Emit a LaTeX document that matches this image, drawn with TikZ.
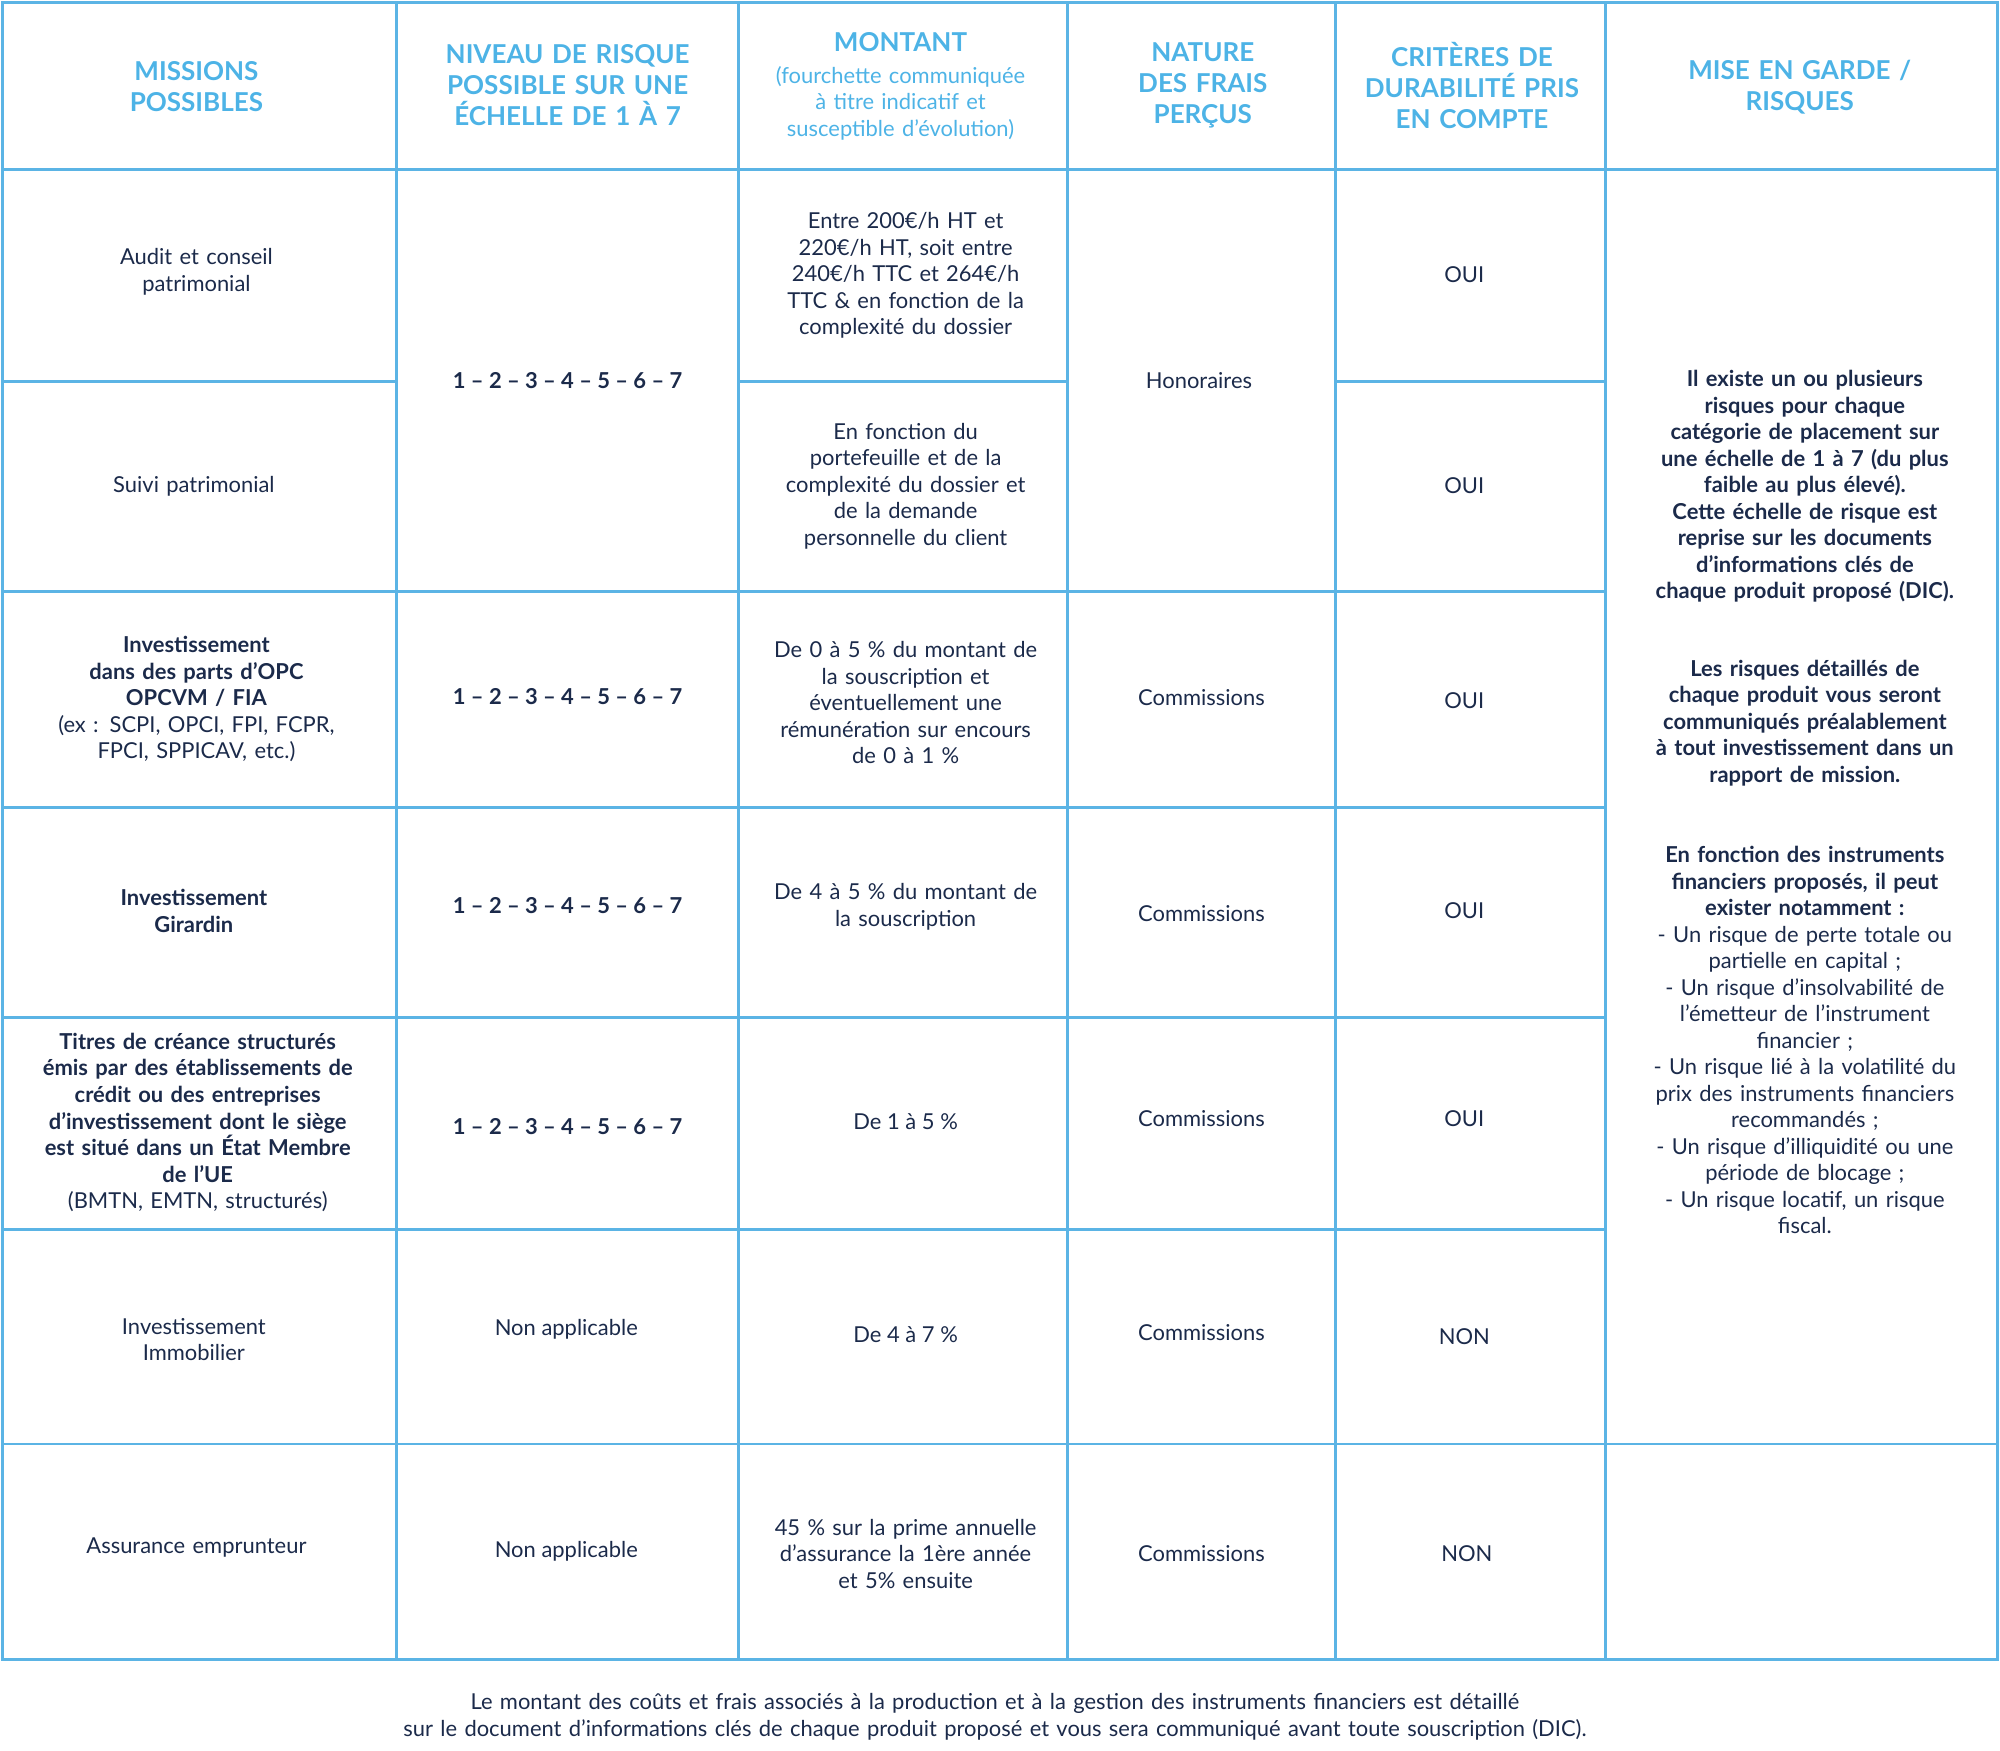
\documentclass[tikz,border=0pt]{standalone}
\usepackage{fontspec}
\setmainfont{Lato}
\definecolor{bl}{HTML}{5BB4E5}
\definecolor{hd}{HTML}{4DB3E6}
\definecolor{nv}{HTML}{1B2A4A}
\begin{document}
\begin{tikzpicture}[x=0.5pt,y=-0.5pt,
 cell/.style={align=center,text=nv,font=\fontsize{8.6}{10.4}\selectfont,inner sep=0pt},
 hdr/.style={align=center,text=hd,font=\fontsize{10.2}{12.2}\selectfont\bfseries,inner sep=0pt},
 ln/.style={draw=bl,line width=1.1pt}]
\useasboundingbox (0,0) rectangle (1568,1372);
\draw[ln] (2,2) rectangle (1566,1301);
\foreach \x in {311,579,837,1047,1259} \draw[ln] (\x,2) -- (\x,1301);
\draw[ln] (2,133) -- (1566,133);
\draw[ln] (2,299) -- (311,299); \draw[ln] (579,299) -- (837,299); \draw[ln] (1047,299) -- (1259,299);
\foreach \y in {464,633,798,964} \draw[ln] (2,\y) -- (1259,\y);
\draw[ln] (2,1132) -- (1566,1132);
% headers
\node[hdr,text width=140pt] (h1) at (154,68) {MISSIONS\\POSSIBLES};
\node[hdr,text width=130pt] (h2) at (445,67) {NIVEAU DE RISQUE\\POSSIBLE SUR UNE\\ÉCHELLE DE 1 À 7};
\node[hdr,text width=125pt] (h3) at (706,33) {MONTANT};
\node[cell,text=hd,text width=125pt] (h3b) at (706,81) {(fourchette communiquée\\à titre indicatif et\\susceptible d’évolution)};
\node[hdr,text width=100pt] (h4) at (943,67) {NATURE\\DES FRAIS\\PERÇUS};
\node[hdr,text width=100pt] (h5) at (1154,67) {CRITÈRES DE\\DURABILITÉ PRIS\\EN COMPTE};
\node[hdr,text width=140pt] (h6) at (1411,68) {MISE EN GARDE /\\RISQUES};
% col1
\node[cell,text width=145pt] (a1) at (154,213) {Audit et conseil\\patrimonial};
\node[cell,text width=145pt] (a2) at (152,381) {Suivi patrimonial};
\node[cell,text width=145pt] (a3) at (154,548) {\textbf{Investissement}\\\textbf{dans des parts d’OPC}\\\textbf{OPCVM / FIA}\\(ex : SCPI, OPCI, FPI, FCPR,\\FPCI, SPPICAV, etc.)};
\node[cell,text width=145pt] (a4) at (152,714) {\textbf{Investissement}\\\textbf{Girardin}};
\node[cell,text width=150pt] (a5) at (155,880) {\textbf{Titres de créance structurés}\\\textbf{émis par des établissements de}\\\textbf{crédit ou des entreprises}\\\textbf{d’investissement dont le siège}\\\textbf{est situé dans un État Membre}\\\textbf{de l’UE}\\(BMTN, EMTN, structurés)};
\node[cell,text width=145pt] (a6) at (152,1050) {Investissement\\Immobilier};
\node[cell,text width=145pt] (a7) at (154,1213) {Assurance emprunteur};
% col2
\node[cell,font=\fontsize{8.6}{10.4}\selectfont\bfseries] (b1) at (445,298) {1 – 2 – 3 – 4 – 5 – 6 – 7};
\node[cell,font=\fontsize{8.6}{10.4}\selectfont\bfseries] (b3) at (445,546) {1 – 2 – 3 – 4 – 5 – 6 – 7};
\node[cell,font=\fontsize{8.6}{10.4}\selectfont\bfseries] (b4) at (445,710) {1 – 2 – 3 – 4 – 5 – 6 – 7};
\node[cell,font=\fontsize{8.6}{10.4}\selectfont\bfseries] (b5) at (445,883) {1 – 2 – 3 – 4 – 5 – 6 – 7};
\node[cell] (b6) at (444,1042) {Non applicable};
\node[cell] (b7) at (444,1216) {Non applicable};
% col3
\node[cell,text width=120pt] (c1) at (710,216) {Entre 200€/h HT et\\220€/h HT, soit entre\\240€/h TTC et 264€/h\\TTC \& en fonction de la\\complexité du dossier};
\node[cell,text width=120pt] (c2) at (710,381) {En fonction du\\portefeuille et de la\\complexité du dossier et\\de la demande\\personnelle du client};
\node[cell,text width=120pt] (c3) at (710,551) {De 0 à 5 \% du montant de\\la souscription et\\éventuellement une\\rémunération sur encours\\de 0 à 1 \%};
\node[cell,text width=120pt] (c4) at (710,711) {De 4 à 5 \% du montant de\\la souscription};
\node[cell] (c5) at (710,879) {De 1 à 5 \%};
\node[cell] (c6) at (710,1046) {De 4 à 7 \%};
\node[cell,text width=120pt] (c7) at (710,1218) {45 \% sur la prime annuelle\\d’assurance la 1ère année\\et 5\% ensuite};
% col4
\node[cell] (d1) at (940,298) {Honoraires};
\node[cell] (d3) at (942,547) {Commissions};
\node[cell] (d4) at (942,716) {Commissions};
\node[cell] (d5) at (942,877) {Commissions};
\node[cell] (d6) at (942,1045) {Commissions};
\node[cell] (d7) at (942,1218) {Commissions};
% col5
\node[cell] (e1) at (1148,215) {OUI};
\node[cell] (e2) at (1148,381) {OUI};
\node[cell] (e3) at (1148,549) {OUI};
\node[cell] (e4) at (1148,714) {OUI};
\node[cell] (e5) at (1148,877) {OUI};
\node[cell] (e6) at (1148,1048) {NON};
\node[cell] (e7) at (1150,1218) {NON};
% col6
\node[cell,text width=130pt,anchor=north] (f1) at (1415,290) {\textbf{Il existe un ou plusieurs}\\\textbf{risques pour chaque}\\\textbf{catégorie de placement sur}\\\textbf{une échelle de 1 à 7 (du plus}\\\textbf{faible au plus élevé).}\\\textbf{Cette échelle de risque est}\\\textbf{reprise sur les documents}\\\textbf{d’informations clés de}\\\textbf{chaque produit proposé (DIC).}};
\node[cell,text width=130pt,anchor=north] (f2) at (1415,517) {\textbf{Les risques détaillés de}\\\textbf{chaque produit vous seront}\\\textbf{communiqués préalablement}\\\textbf{à tout investissement dans un}\\\textbf{rapport de mission.}};
\node[cell,text width=130pt,anchor=north] (f3) at (1415,663) {\textbf{En fonction des instruments}\\\textbf{financiers proposés, il peut}\\\textbf{exister notamment :}\\- Un risque de perte totale ou\\partielle en capital ;\\- Un risque d’insolvabilité de\\l’émetteur de l’instrument\\financier ;\\- Un risque lié à la volatilité du\\prix des instruments financiers\\recommandés ;\\- Un risque d’illiquidité ou une\\période de blocage ;\\- Un risque locatif, un risque\\fiscal.};
% footer
\node[cell,text width=500pt] (ft) at (780,1346) {Le montant des coûts et frais associés à la production et à la gestion des instruments financiers est détaillé\\sur le document d’informations clés de chaque produit proposé et vous sera communiqué avant toute souscription (DIC).};
\end{tikzpicture}
\end{document}
